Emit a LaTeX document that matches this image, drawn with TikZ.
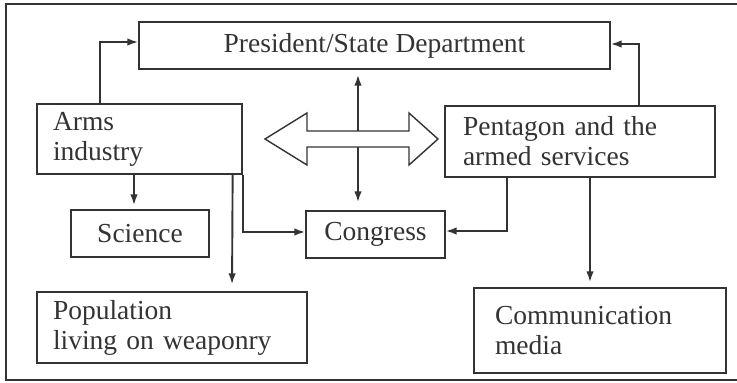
\documentclass[tikz,border=0pt]{standalone}
\usepackage{fontspec}
\setmainfont{Liberation Serif}
\usetikzlibrary{arrows.meta}
\definecolor{ink}{HTML}{333333}
\begin{document}
\begin{tikzpicture}[x=1pt,y=-1pt,
  box/.style={draw=ink,line width=1.3pt,text=ink,inner sep=0pt,
    font=\fontsize{27.5}{30}\selectfont},
  lbox/.style={box,align=left},
  arr/.style={draw=ink,line width=1.9pt,-{Latex[length=11pt,width=7.5pt]}},
  arrtwo/.style={draw=ink,line width=1.9pt,{Latex[length=11pt,width=7.5pt]}-{Latex[length=11pt,width=7.5pt]}},
  bigarrow/.style={draw=ink,line width=1.4pt,fill=white,line join=miter}]
\useasboundingbox (0,0) rectangle (737,383);
\draw[ink,line width=1.3pt] (750,4) -- (6,4) -- (6,380) -- (750,380);

\node[box,minimum width=471pt,minimum height=47pt] (pres) at (374.5,45.5) {President/State Department};
\node[lbox,text width=173pt,minimum height=70pt,inner xsep=16pt] (arms) at (139.5,139) {Arms\\industry};
\node[lbox,text width=234pt,minimum height=71pt,inner xsep=18pt] (pent) at (580,141.5) {Pentagon and the\\armed services};
\node[box,minimum width=138pt,minimum height=47pt] (sci) at (140,233.5) {Science};
\node[box,minimum width=139pt,minimum height=47pt] (cong) at (375.5,234.5) {Congress};
\node[lbox,text width=238pt,minimum height=71pt,inner xsep=16pt] (pop) at (172,327.5) {Population\\living on weaponry};
\node[lbox,text width=210pt,minimum height=85pt,inner xsep=21pt] (comm) at (600,330.5) {Communication\\media};

\draw[arr] ([xshift=64pt]arms.north west) |- ([yshift=3.5pt]pres.west);
\draw[arr] ([xshift=195pt]pent.north west) |- ([yshift=1.5pt]pres.east);
\draw[arrtwo,shorten <=5pt,shorten >=8pt] ([xshift=-16.5pt]pres.south) -- ([xshift=-17.5pt]cong.north);
\draw[arr,shorten >=4pt] ([xshift=-5.5pt]arms.south) -- ([xshift=-6pt]sci.north);
\draw[arr] (arms.south east) |- ([yshift=2.5pt]cong.west);
\draw[arr,shorten >=7pt] ([xshift=-10pt]arms.south east) -- ([xshift=60pt]pop.north);
\draw[arr] ([xshift=-73pt]pent.south) |- ([yshift=3.5pt]cong.east);
\draw[arr,shorten >=5pt] ([xshift=10pt]pent.south) -- ([xshift=-10pt]comm.north);

\draw[bigarrow] (265,139) -- (307,113) -- (307,131) -- (409,131) -- (409,113)
  -- (438,139) -- (409,165) -- (409,147) -- (307,147) -- (307,165) -- cycle;
\end{tikzpicture}
\end{document}
